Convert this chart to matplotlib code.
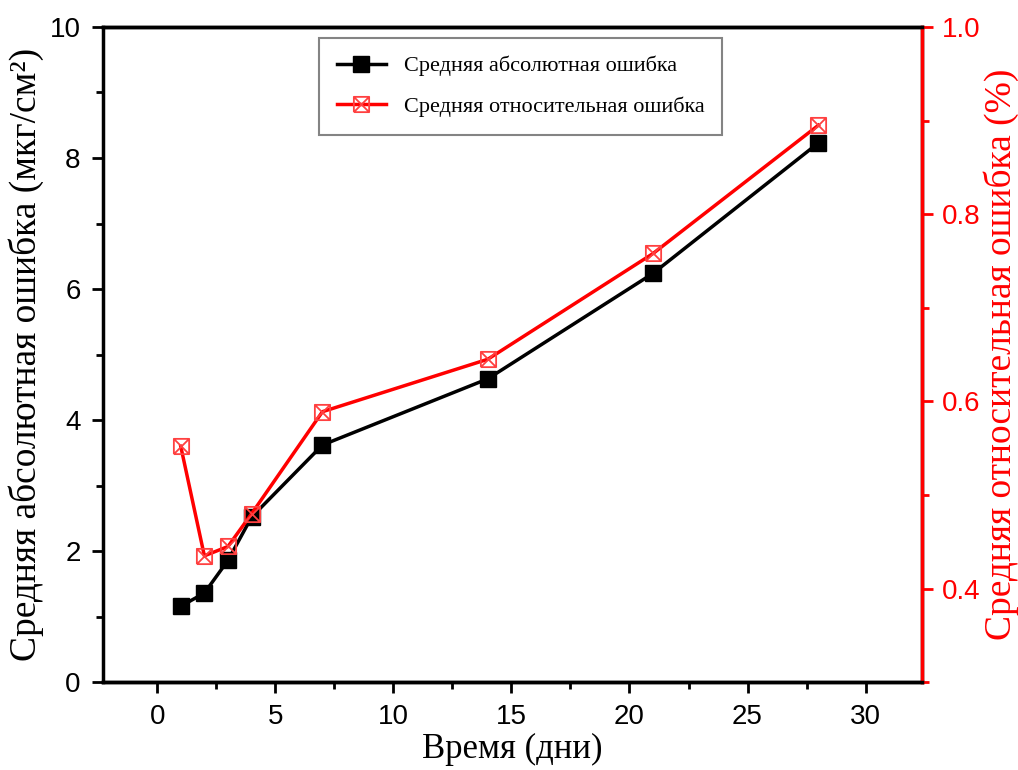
import numpy as np
import matplotlib.pyplot as plt
from matplotlib.path import Path
from matplotlib.ticker import MultipleLocator

days = [1, 2, 3, 4, 7, 14, 21, 28]
abs_err = [1.16, 1.36, 1.86, 2.52, 3.62, 4.63, 6.24, 8.23]
rel_err = [0.552, 0.435, 0.445, 0.480, 0.589, 0.645, 0.758, 0.895]

serif = 'Liberation Serif'
sans = 'Liberation Sans'

# open square with a cross inside
box_x = Path([(-1, -1), (1, -1), (1, 1), (-1, 1), (-1, -1), (-1, -1), (1, 1), (-1, 1), (1, -1)],
             [Path.MOVETO, Path.LINETO, Path.LINETO, Path.LINETO, Path.LINETO,
              Path.MOVETO, Path.LINETO, Path.MOVETO, Path.LINETO])

fig = plt.figure(figsize=(10.18, 7.7), dpi=100)
ax = fig.add_axes([0.101, 0.114, 0.805, 0.851])
ax2 = ax.twinx()

l1, = ax.plot(days, abs_err, color='black', lw=2.5, marker='s', ms=11,
              label='Средняя абсолютная ошибка')
l2, = ax2.plot(days, rel_err, color='red', lw=2.5, marker=box_x, ms=11,
               mfc='none', mec='#ff4040', mew=1.3, label='Средняя относительная ошибка')

ax.set_xlim(-2.3, 32.4)
ax.set_ylim(0, 10)
ax2.set_ylim(0.3, 1.0)

ax.xaxis.set_major_locator(MultipleLocator(5))
ax.xaxis.set_minor_locator(MultipleLocator(2.5))
ax.yaxis.set_major_locator(MultipleLocator(2))
ax.yaxis.set_minor_locator(MultipleLocator(1))
ax2.yaxis.set_major_locator(MultipleLocator(0.2))
ax2.yaxis.set_minor_locator(MultipleLocator(0.1))

for a in (ax, ax2):
    for s in a.spines.values():
        s.set_linewidth(2.5)
ax2.spines['right'].set_color('red')
ax2.spines['left'].set_visible(False)

ax.tick_params(which='major', direction='out', length=8, width=2, labelsize=20, pad=8)
ax.tick_params(which='minor', direction='out', length=5, width=2)
ax2.tick_params(which='major', direction='out', length=8, width=2, labelsize=20,
                colors='red', pad=6)
ax2.tick_params(which='minor', direction='out', length=5, width=2, colors='red')
for lab in ax.get_xticklabels() + ax.get_yticklabels():
    lab.set_family(sans)
ax2.set_yticks([0.4, 0.6, 0.8, 1.0])
ax2.set_yticklabels(['0.4', '0.6', '0.8', '1.0'], family=sans)

ax.set_xlabel('Время (дни)', family=serif, fontsize=25, labelpad=2)
ax.set_ylabel('Средняя абсолютная ошибка (мкг/см²)', family=serif, fontsize=27, labelpad=4)
ax2.set_ylabel('Средняя относительная ошибка (%)', family=serif, fontsize=27,
               color='red', labelpad=2)

leg = ax.legend(handles=[l1, l2], loc='upper center', bbox_to_anchor=(0.51, 0.983),
                prop={'family': serif, 'size': 16}, fancybox=False, frameon=True,
                edgecolor='#666666', handlelength=2.2, borderpad=0.8, labelspacing=0.9,
                borderaxespad=0)
leg.get_frame().set_linewidth(1.5)

fig.savefig('out.png', dpi=100)
